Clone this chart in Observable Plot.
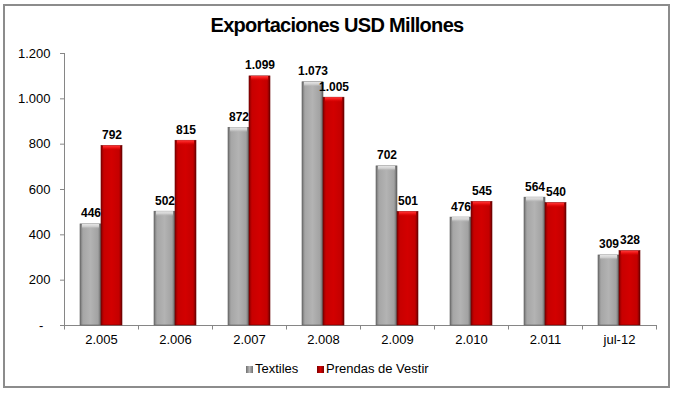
<!DOCTYPE html>
<html>
<head>
<meta charset="utf-8">
<script src="https://cdn.jsdelivr.net/npm/d3@7"></script>
<script src="https://cdn.jsdelivr.net/npm/@observablehq/plot@0.6"></script>
<style>
  html, body { margin: 0; padding: 0; background: #fff; }
  #wrap { position: relative; width: 676px; height: 395px; overflow: hidden; font-family: "Liberation Sans", Arial, sans-serif; }
  #border { position: absolute; left: 3px; top: 4px; width: 663px; height: 380px; border: 2px solid #8c8c8c; }
  #title { position: absolute; left: 0; top: 15px; width: 674px; text-align: center; font-size: 20px; line-height: 20px; font-weight: bold; letter-spacing: -0.7px; color: #000; }
  #chart { position: absolute; left: 0; top: 45px; }
  #legend { position: absolute; left: 0; top: 361px; width: 676px; height: 16px; font-size: 13px; line-height: 16px; color: #000; }
  .item { position: absolute; top: 0; }
  .sw { display: inline-block; width: 7px; height: 7px; margin-right: 2px; vertical-align: 0px; }
</style>
</head>
<body>
<div id="wrap">
  <div id="border"></div>
  <div id="title">Exportaciones USD Millones</div>
  <div id="chart"></div>
  <div id="legend">
    <span class="item" style="left:246px"><span class="sw" style="background:linear-gradient(90deg,#6e6e6e,#b8b8b8 50%,#6e6e6e)"></span>Textiles</span>
    <span class="item" style="left:317px"><span class="sw" style="background:linear-gradient(90deg,#7a0000,#d40000 50%,#7a0000)"></span>Prendas de Vestir</span>
  </div>
</div>
<script>
const categories = ["2.005", "2.006", "2.007", "2.008", "2.009", "2.010", "2.011", "jul-12"];
const textiles = [446, 502, 872, 1073, 702, 476, 564, 309];
const prendas = [792, 815, 1099, 1005, 501, 545, 540, 328];
const yTicks = [0, 200, 400, 600, 800, 1000, 1200];

const locale = d3.formatLocale({decimal: ",", thousands: ".", grouping: [3], currency: ["$", ""]});
const fmt = locale.format(",d");

const tData = categories.map((c, i) => ({cat: c, value: textiles[i]}));
const pData = categories.map((c, i) => ({cat: c, value: prendas[i]}));

const axisColor = "#868686";
const font = "'Liberation Sans', Arial, sans-serif";

const plot = Plot.plot({
  width: 676,
  height: 310,
  marginLeft: 64,
  marginRight: 20,
  marginTop: 8,
  marginBottom: 30,
  style: {fontFamily: font, fontSize: "13px", color: "#000", background: "transparent"},
  x: {domain: categories, padding: 0},
  y: {domain: [0, 1200]},
  marks: [
    // axis lines
    Plot.ruleX([categories[0]], {x: d => d, dx: -37, stroke: axisColor}),
    Plot.ruleY([0], {stroke: axisColor}),
    // category boundary ticks
    Plot.ruleX(categories, {x: d => d, dx: -37, y1: 0, y2: -20, stroke: axisColor}),
    Plot.ruleX([categories[categories.length - 1]], {x: d => d, dx: 37, y1: 0, y2: -20, stroke: axisColor}),
    // bars
    Plot.barY(tData, {x: "cat", y: "value", insetLeft: 16, insetRight: 37, fill: "url(#gradGray)", stroke: "#5e5e5e", strokeWidth: 0.6}),
    Plot.barY(pData, {x: "cat", y: "value", insetLeft: 37, insetRight: 16, fill: "url(#gradRed)", stroke: "#6a0000", strokeWidth: 0.6}),
    // top bevel highlight
    Plot.barY(tData, {x: "cat", y1: d => d.value - 22, y2: "value", insetLeft: 18, insetRight: 39, fill: "url(#capGray)"}),
    Plot.barY(pData, {x: "cat", y1: d => d.value - 22, y2: "value", insetLeft: 39, insetRight: 18, fill: "url(#capRed)"}),
    // value labels
    Plot.text(tData, {x: "cat", y: "value", text: d => fmt(d.value), dx: -10.5, dy: -7, lineAnchor: "bottom", fontWeight: "bold", fontSize: 12, fill: "#000"}),
    Plot.text(pData, {x: "cat", y: "value", text: d => fmt(d.value), dx: 10.5, dy: -7, lineAnchor: "bottom", fontWeight: "bold", fontSize: 12, fill: "#000"}),
    // axes
    Plot.axisY({ticks: yTicks, tickFormat: d => d === 0 ? "-\u00a0\u00a0" : fmt(d), tickSize: 4, tickPadding: 10, stroke: axisColor, fill: "#000", fontSize: 13, label: null}),
    Plot.axisX({tickSize: 0, tickPadding: 9, fill: "#000", fontSize: 13, label: null})
  ]
});

// gradients for the bevelled bars
const ns = "http://www.w3.org/2000/svg";
const defs = document.createElementNS(ns, "defs");
defs.innerHTML = `
  <linearGradient id="gradGray" x1="0" x2="1" y1="0" y2="0">
    <stop offset="0" stop-color="#707070"/>
    <stop offset="0.14" stop-color="#a6a6a6"/>
    <stop offset="0.5" stop-color="#b3b3b3"/>
    <stop offset="0.86" stop-color="#a2a2a2"/>
    <stop offset="1" stop-color="#606060"/>
  </linearGradient>
  <linearGradient id="gradRed" x1="0" x2="1" y1="0" y2="0">
    <stop offset="0" stop-color="#860000"/>
    <stop offset="0.14" stop-color="#c80000"/>
    <stop offset="0.5" stop-color="#d20000"/>
    <stop offset="0.86" stop-color="#c40000"/>
    <stop offset="1" stop-color="#6e0000"/>
  </linearGradient>
  <linearGradient id="capGray" x1="0" x2="0" y1="0" y2="1">
    <stop offset="0" stop-color="#e6e6e6"/>
    <stop offset="0.5" stop-color="#d0d0d0"/>
    <stop offset="1" stop-color="#b3b3b3" stop-opacity="0"/>
  </linearGradient>
  <linearGradient id="capRed" x1="0" x2="0" y1="0" y2="1">
    <stop offset="0" stop-color="#ff3a3a"/>
    <stop offset="0.5" stop-color="#ea1010"/>
    <stop offset="1" stop-color="#d20000" stop-opacity="0"/>
  </linearGradient>`;
plot.insertBefore(defs, plot.firstChild);
document.getElementById("chart").appendChild(plot);
</script>
</body>
</html>
